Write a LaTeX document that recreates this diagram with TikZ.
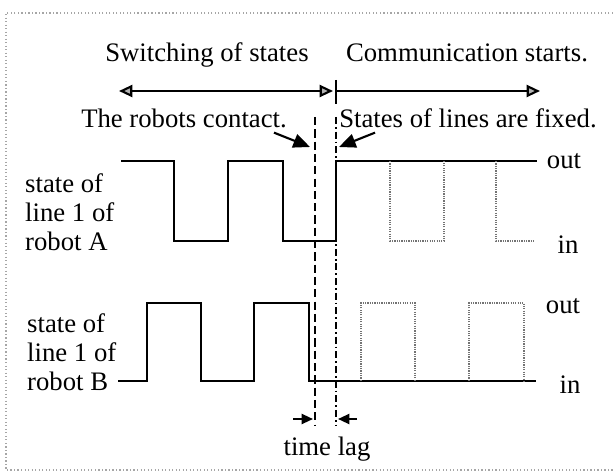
\documentclass[tikz,border=0pt]{standalone}
\usepackage{fontspec}
\setmainfont{Liberation Serif}
\usetikzlibrary{arrows.meta}

\tikzset{
  txt/.style={font=\fontsize{22.8}{24.75}\selectfont, inner sep=0pt},
  frame/.style={gray!70, line width=1pt, dotted},
  sig/.style={line width=2.2pt},
  later/.style={black!55, line width=1.8pt, dash pattern=on 1pt off 1pt},
  contactline/.style={line width=2pt, dash pattern=on 7pt off 3.5pt},
  fixline/.style={line width=2pt, dash pattern=on 6pt off 2.5pt on 1.5pt off 2.5pt},
  timeline/.style={line width=1.8pt},
  axtip/.tip={Triangle[length=4mm,width=3.6mm,fill=gray!60]},
  pointer/.style={line width=1.8pt, -{Triangle[length=5mm,width=4.2mm]}},
  lag/.style={line width=1.8pt, -{Triangle[length=3.4mm,width=3mm]}},
}

\begin{document}
\begin{tikzpicture}[scale=1]
        \useasboundingbox (0,0) rectangle (18.42,14.25);

        % 点线外框
        \draw[frame] (18.6,13.86) -- (0.18,13.86) -- (0.18,0.15) -- (18.6,0.15);

        % 上方两段时间的说明
        \node[txt, anchor=base] (sw) at (6.21,12.39) {Switching of states};
        \node[txt, anchor=base] (cs) at (14.01,12.39) {Communication starts.};

        % 时间轴
        \coordinate (tl) at (3.57,11.52);
        \coordinate (tm) at (9.99,11.52);
        \coordinate (tk) at (10.08,11.52);
        \coordinate (tr) at (16.2,11.52);
        \draw[timeline, axtip-axtip] (tl) -- (tm);
        \draw[timeline] (10.08,11.85) -- (10.08,11.13);
        \draw[timeline, -axtip] (tk) -- (tr);

        % 接触时刻与状态确定时刻
        \node[txt, anchor=base] (rc) at (5.52,10.41) {The robots contact.};
        \node[txt, anchor=base] (sf) at (14.04,10.41) {States of lines are fixed.};
        \coordinate (ct) at (9.45,10.74);
        \coordinate (cb) at (9.45,1.5);
        \coordinate (ft) at (10.08,10.74);
        \coordinate (fb) at (10.08,1.5);
        \draw[contactline] (ct) -- (cb);
        \draw[fixline] (ft) -- (fb);
        \coordinate (ca) at (9.3,9.84);
        \coordinate (fa) at (10.17,9.84);
        \draw[pointer] ([shift={(-0.39,-0.12)}]rc.south east) -- (ca);
        \draw[pointer] ([shift={(1.08,-0.12)}]sf.south west) -- (fa);

        % 机器人A的线路1
        \node[txt, anchor=west, align=left] (la) at (0.75,7.89) {state of\\line 1 of\\robot A};
        \draw[sig] (3.63,9.42) -- (5.22,9.42) -- (5.22,7.02) -- (6.84,7.02) -- (6.84,9.42)
              -- (8.49,9.42) -- (8.49,7.02) -- (10.08,7.02) -- (10.08,9.42) -- (16.11,9.42);
        \draw[later] (11.7,9.42) -- (11.7,7.02) -- (13.32,7.02) -- (13.32,9.42);
        \draw[later] (14.88,9.42) -- (14.88,7.02) -- (16.02,7.02);
        \node[txt, anchor=base] (oa) at (16.92,9.21) {out};
        \node[txt, anchor=base] (ia) at (17.04,6.66) {in};

        % 机器人B的线路1
        \node[txt, anchor=west, align=left] (lb) at (0.81,3.69) {state of\\line 1 of\\robot B};
        \draw[sig] (3.54,2.82) -- (4.41,2.82) -- (4.41,5.16) -- (6.03,5.16) -- (6.03,2.82)
              -- (7.62,2.82) -- (7.62,5.16) -- (9.27,5.16) -- (9.27,2.82) -- (16.08,2.82);
        \draw[later] (10.83,2.82) -- (10.83,5.16) -- (12.45,5.16) -- (12.45,2.82);
        \draw[later] (14.07,2.82) -- (14.07,5.16) -- (15.72,5.16) -- (15.72,2.82);
        \node[txt, anchor=base] (ob) at (16.89,4.86) {out};
        \node[txt, anchor=base] (ib) at (17.1,2.46) {in};

        % 时间差
        \coordinate (gl) at (8.79,1.68);
        \coordinate (gr) at (10.71,1.68);
        \draw[lag] (gl) -- (9.39,1.68);
        \draw[lag] (gr) -- (10.14,1.68);
        \node[txt, anchor=base] (tlag) at (9.81,0.6) {time lag};
    \end{tikzpicture}
\end{document}
